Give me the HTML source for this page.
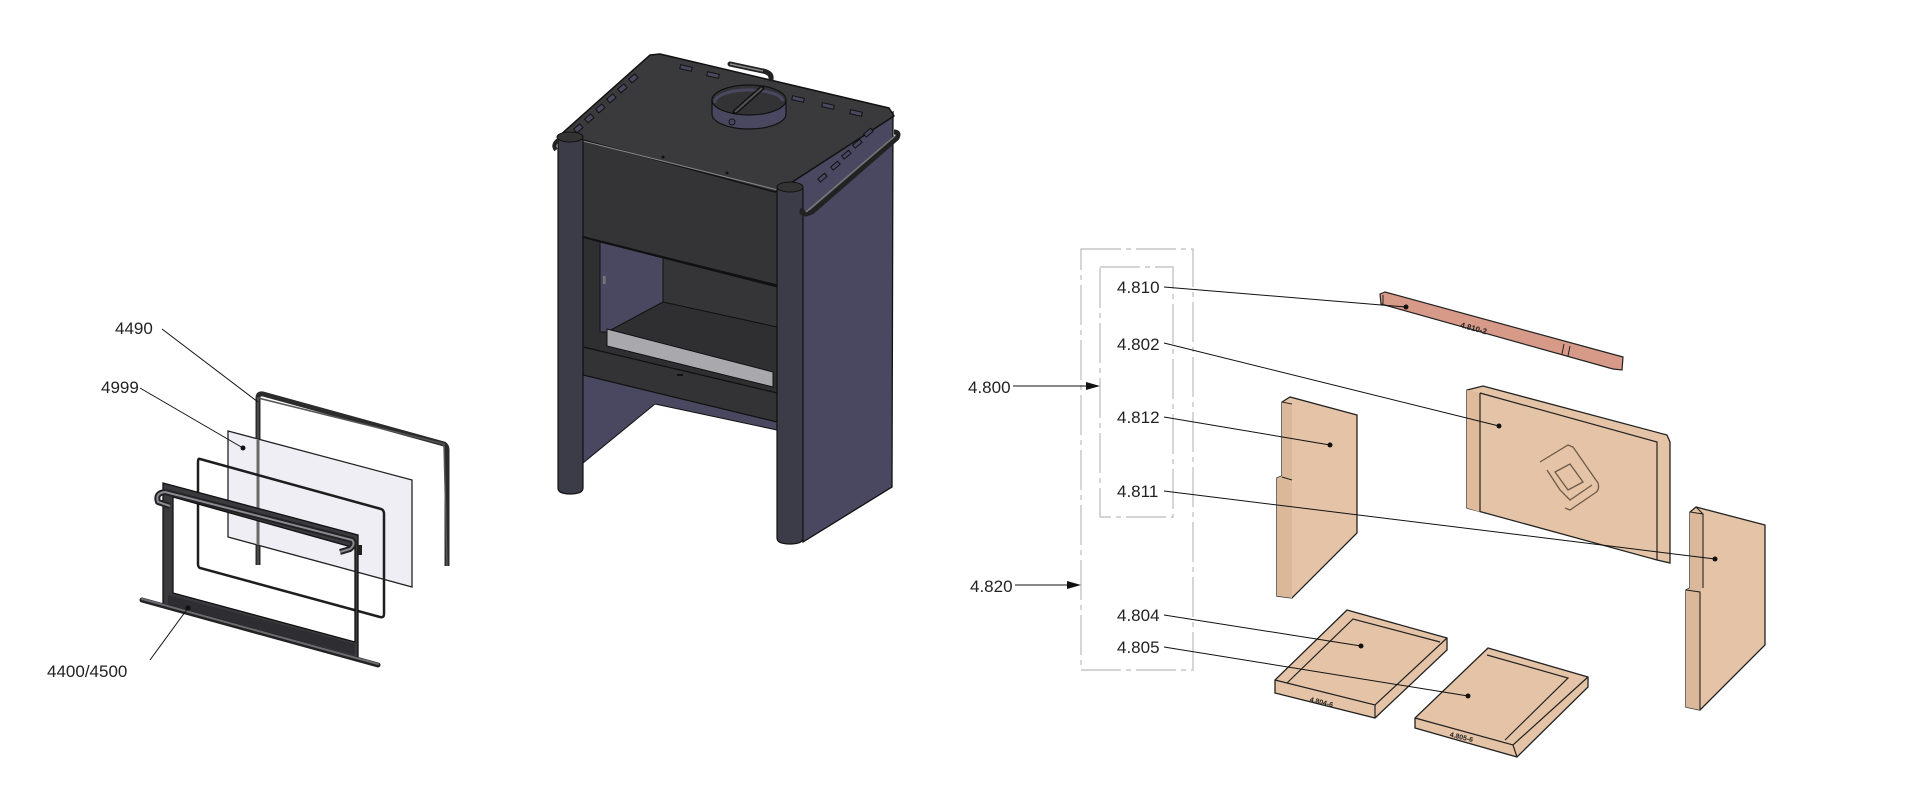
<!DOCTYPE html>
<html><head><meta charset="utf-8"><style>
html,body{margin:0;padding:0;background:#fff;}
svg{display:block}
text{font-family:"Liberation Sans",sans-serif;font-size:17px;fill:#222}
</style></head><body>
<svg width="1920" height="801" viewBox="0 0 1920 801" xmlns="http://www.w3.org/2000/svg">
<!-- ===== LEFT DOOR GROUP ===== -->
<path d="M258,565 L258,398 Q258,393 263,394 L444,444 Q447,446 447,450 L447,566" fill="none" stroke="#2b2b2b" stroke-width="5" stroke-linejoin="round"/>
<path d="M258,565 L258,398 L444,444 L447,566" fill="none" stroke="#555" stroke-width="1.5"/>
<polygon points="228,431 412,480 412,587 228,537" fill="#efeef4" stroke="#222" stroke-width="1.3"/>
<line x1="258" y1="440" x2="258" y2="545" stroke="#6a6a6a" stroke-width="3"/>
<path d="M200,459 L381,509 Q384,510 384,514 L384,614 Q384,618 380,617 L200,568 Q198,567 198,564 L198,462 Q198,458 200,459 Z" fill="none" stroke="#1e1e1e" stroke-width="2.5"/>
<path d="M163,483 L358,535 L358,658 L163,605 Z M173,497 L173,593 L355,642 L355,548 Z" fill="#3a3a3e" fill-rule="evenodd" stroke="#111" stroke-width="1.3"/>
<polygon points="168,595 355,644 355,655 168,606" fill="#2e2e32"/>
<line x1="142" y1="600" x2="378" y2="665" stroke="#222" stroke-width="5" stroke-linecap="round"/>
<line x1="142" y1="599" x2="378" y2="664" stroke="#6a6a70" stroke-width="2" stroke-linecap="round"/>
<path d="M165,492 L352,540 Q356,544 350,549 L340,552 M165,492 Q155,493 158,502 L170,506" fill="none" stroke="#222" stroke-width="6" stroke-linejoin="round"/>
<path d="M165,492 L352,540 Q356,544 350,549 L340,552 M165,492 Q155,493 158,502 L170,506" fill="none" stroke="#8a8a92" stroke-width="2"/>
<rect x="358" y="545" width="4" height="10" fill="#222"/>
<text x="115" y="334">4490</text>
<line x1="162" y1="329" x2="258" y2="402" stroke="#111" stroke-width="1"/>
<text x="101" y="393">4999</text>
<line x1="140" y1="388" x2="243" y2="448" stroke="#111" stroke-width="1"/>
<circle cx="243" cy="448" r="2.5" fill="#111"/>
<text x="47" y="677">4400/4500</text>
<line x1="150" y1="660" x2="188" y2="608" stroke="#111" stroke-width="1"/>
<circle cx="188" cy="608" r="2.5" fill="#111"/>

<!-- ===== STOVE ===== -->
<polygon points="783,188 893,112 892,487 803,542" fill="#4a4860" stroke="#111" stroke-width="1.3"/>
<!-- lower back area -->
<polygon points="583,375 777,422 777,430 655,404 583,463" fill="#4a4860"/>
<line x1="655" y1="404" x2="583" y2="463" stroke="#111" stroke-width="1"/>
<line x1="655" y1="404" x2="777" y2="430" stroke="#111" stroke-width="1"/>
<polygon points="583,140 778,188 778,286 583,237" fill="#343436" stroke="#111" stroke-width="1.2"/>
<polygon points="583,237 777,285 777,393 583,347" fill="#2f2f31" stroke="#111" stroke-width="1.2"/>
<polygon points="600,242 663,258 663,302 607,332 600,332" fill="#4a4860" stroke="#111" stroke-width="1"/>
<polygon points="663,258 777,287 777,327 663,302" fill="#353537" stroke="#111" stroke-width="1"/>
<line x1="583" y1="237" x2="777" y2="286" stroke="#111" stroke-width="2"/>
<polygon points="607,329 773,372 773,387 607,346" fill="#a9a8ad" stroke="#111" stroke-width="1"/>
<rect x="603" y="276" width="2.5" height="8" fill="#777"/>
<polygon points="583,347 777,393 777,422 583,375" fill="#333335" stroke="#111" stroke-width="1.2"/>
<rect x="677" y="374" width="6" height="2" fill="#111"/>
<!-- top -->
<polygon points="558,137 650,55 660,54 889,108 894,116 783,188 775,192 583,140" fill="#3a3a3c" stroke="#111" stroke-width="1.5" stroke-linejoin="round"/>
<line x1="583" y1="141" x2="778" y2="190" stroke="#888" stroke-width="1"/>
<g fill="#4a4860" stroke="#111" stroke-width="1">
<rect x="574" y="126" width="8" height="5" transform="rotate(-40 578 128)"/>
<rect x="585" y="116" width="8" height="5" transform="rotate(-40 589 118)"/>
<rect x="596" y="106" width="8" height="5" transform="rotate(-40 600 108)"/>
<rect x="607" y="96" width="8" height="5" transform="rotate(-40 611 98)"/>
<rect x="618" y="86" width="8" height="5" transform="rotate(-40 622 88)"/>
<rect x="629" y="76" width="8" height="5" transform="rotate(-40 633 78)"/>
<rect x="680" y="66" width="12" height="4" transform="rotate(13 686 68)"/>
<rect x="707" y="73" width="12" height="4" transform="rotate(13 713 75)"/>
<rect x="792" y="97" width="12" height="4" transform="rotate(13 798 99)"/>
<rect x="822" y="104" width="12" height="4" transform="rotate(13 828 106)"/>
<rect x="850" y="111" width="12" height="4" transform="rotate(13 856 113)"/>
<rect x="864" y="131" width="9" height="4" transform="rotate(-40 868 133)"/>
<rect x="853" y="142" width="9" height="4" transform="rotate(-40 857 144)"/>
<rect x="842" y="153" width="9" height="4" transform="rotate(-40 846 155)"/>
<rect x="831" y="164" width="9" height="4" transform="rotate(-40 835 166)"/>
<rect x="818" y="176" width="9" height="4" transform="rotate(-40 822 178)"/>
</g>
<circle cx="663" cy="157" r="1.5" fill="#111"/><circle cx="727" cy="173" r="1.5" fill="#111"/>
<path d="M730,64 L763,71 Q772,73 771,79" fill="none" stroke="#222" stroke-width="5" stroke-linecap="round"/>
<path d="M730,64 L763,71" stroke="#888" stroke-width="1.5"/>
<path d="M712,100 L712,114 A37,15 0 0 0 786,114 L786,100" fill="#4a4860" stroke="#111" stroke-width="1.2"/>
<ellipse cx="749" cy="100" rx="37" ry="15" fill="#333335" stroke="#111" stroke-width="1.2"/>
<path d="M715,103 A34,12 0 0 1 783,101" fill="none" stroke="#4a4860" stroke-width="3"/>
<line x1="735" y1="112" x2="762" y2="88" stroke="#111" stroke-width="5" stroke-linecap="round"/>
<line x1="735" y1="112" x2="762" y2="88" stroke="#555" stroke-width="2"/>
<circle cx="732" cy="122" r="3" fill="none" stroke="#111"/>
<path d="M558,140 Q558,133 570,133 Q583,133 583,140 L583,488 Q583,494 570,494 Q558,494 558,488 Z" fill="#3c3b48" stroke="#111" stroke-width="1.2"/>
<path d="M777,190 Q777,183 790,183 Q803,183 803,190 L803,538 Q803,544 790,544 Q777,544 777,538 Z" fill="#3c3b48" stroke="#111" stroke-width="1.2"/>
<ellipse cx="570" cy="137" rx="13" ry="5" fill="#333" stroke="#111"/>
<ellipse cx="790" cy="187" rx="13" ry="5" fill="#333" stroke="#111"/>
<path d="M803,209 Q800,214 806,214 L812,212 L897,138 Q900,132 894,132" fill="none" stroke="#222" stroke-width="5" stroke-linejoin="round"/>
<path d="M806,212 L895,136" stroke="#777" stroke-width="1.5"/>
<path d="M558,140 Q552,145 556,150" fill="none" stroke="#222" stroke-width="4"/>

<!-- ===== RIGHT BRICK GROUP ===== -->
<g fill="none" stroke="#bbb" stroke-width="1.2" stroke-dasharray="40,5,5,5">
<rect x="1081" y="249" width="112" height="421"/>
<rect x="1100" y="267" width="73" height="250"/>
</g>
<text x="968" y="393">4.800</text>
<line x1="1013" y1="386" x2="1097" y2="386" stroke="#111" stroke-width="1"/>
<polygon points="1100,386 1086,382 1086,390" fill="#111"/>
<text x="970" y="592">4.820</text>
<line x1="1015" y1="585" x2="1078" y2="585" stroke="#111" stroke-width="1"/>
<polygon points="1081,585 1067,581 1067,589" fill="#111"/>
<text x="1117" y="293">4.810</text>
<text x="1117" y="350">4.802</text>
<text x="1117" y="423">4.812</text>
<text x="1117" y="497">4.811</text>
<text x="1117" y="621">4.804</text>
<text x="1117" y="653">4.805</text>

<polygon points="1380,294 1385,292 1623,357 1622,370 1613,369 1381,304" fill="#d89a88" stroke="#222" stroke-width="1.2"/>
<line x1="1383" y1="295" x2="1383" y2="304" stroke="#222"/>
<line x1="1564" y1="344" x2="1562" y2="354" stroke="#222"/>
<line x1="1570" y1="346" x2="1568" y2="356" stroke="#222"/>
<text x="1460" y="330" transform="rotate(15 1470 328)" style="font-size:8px;font-weight:bold">4.810-2</text>

<polygon points="1467,390 1483,386 1667,435 1670,442 1670,563 1657,560 1467,508" fill="#e4c3a6" stroke="#222" stroke-width="1.3"/>
<polygon points="1467,390 1480,393 1480,512 1467,508" fill="#dfbb9c"/>
<path d="M1480,393 L1480,512 M1480,393 L1657,442 L1657,560" fill="none" stroke="#222" stroke-width="1.2"/>
<g fill="none" stroke="#6e5a48" stroke-width="1.3">
<path d="M1540,462 L1568,445 L1573,447 L1598,483 Q1600,490 1595,493 L1570,510 L1565,508"/>
<path d="M1547,470 L1560,490 L1570,500 L1592,485"/>
<polygon points="1555,472 1570,464 1583,482 1568,490"/>
</g>

<polygon points="1282,402 1290,397 1357,415 1357,533 1292,598 1277,596 1277,478 1282,476" fill="#e4c3a6" stroke="#222" stroke-width="1.3"/>
<polygon points="1282,402 1292,405 1292,598 1277,596 1277,478 1282,476" fill="#dab899"/>
<line x1="1282" y1="402" x2="1292" y2="404" stroke="#222"/>
<line x1="1282" y1="477" x2="1292" y2="480" stroke="#222"/>

<polygon points="1690,512 1696,507 1765,525 1765,645 1700,710 1686,707 1686,590 1690,588" fill="#e4c3a6" stroke="#222" stroke-width="1.3"/>
<polygon points="1690,512 1702,514 1702,588 1700,590 1700,710 1686,707 1686,590 1690,588" fill="#dab899"/>
<path d="M1690,512 L1703,514 L1703,588 M1686,590 L1700,592 L1700,710 M1696,507 L1703,514" fill="none" stroke="#222" stroke-width="1.1"/>

<polygon points="1347,610 1447,638 1447,650 1375,718 1275,693 1275,680" fill="#e4c3a6" stroke="#222" stroke-width="1.3"/>
<path d="M1275,680 L1375,705 L1447,638 M1375,705 L1375,718" fill="none" stroke="#222" stroke-width="1.2"/>
<path d="M1287,683 L1353,619 L1440,642" fill="none" stroke="#222" stroke-width="1.2"/>
<text x="1310" y="704" transform="rotate(14 1320 700)" style="font-size:7px;font-weight:bold">4.804-6</text>

<polygon points="1488,648 1588,677 1588,687 1517,757 1415,728 1415,718" fill="#e4c3a6" stroke="#222" stroke-width="1.3"/>
<path d="M1415,718 L1513,745 L1588,677 M1513,745 L1517,757" fill="none" stroke="#222" stroke-width="1.2"/>
<path d="M1487,655 L1568,678 L1505,740" fill="none" stroke="#222" stroke-width="1.2"/>
<text x="1450" y="739" transform="rotate(14 1460 735)" style="font-size:7px;font-weight:bold">4.805-6</text>

<g stroke="#111" stroke-width="1">
<line x1="1164" y1="287" x2="1406" y2="307"/>
<line x1="1164" y1="343" x2="1499" y2="426"/>
<line x1="1164" y1="417" x2="1330" y2="445"/>
<line x1="1164" y1="491" x2="1715" y2="559"/>
<line x1="1164" y1="615" x2="1361" y2="646"/>
<line x1="1164" y1="647" x2="1468" y2="696"/>
</g>
<g fill="#111">
<circle cx="1406" cy="307" r="2.5"/><circle cx="1499" cy="426" r="2.5"/><circle cx="1330" cy="445" r="2.5"/>
<circle cx="1715" cy="559" r="2.5"/><circle cx="1361" cy="646" r="2.5"/><circle cx="1468" cy="696" r="2.5"/>
</g>
</svg>
</body></html>
